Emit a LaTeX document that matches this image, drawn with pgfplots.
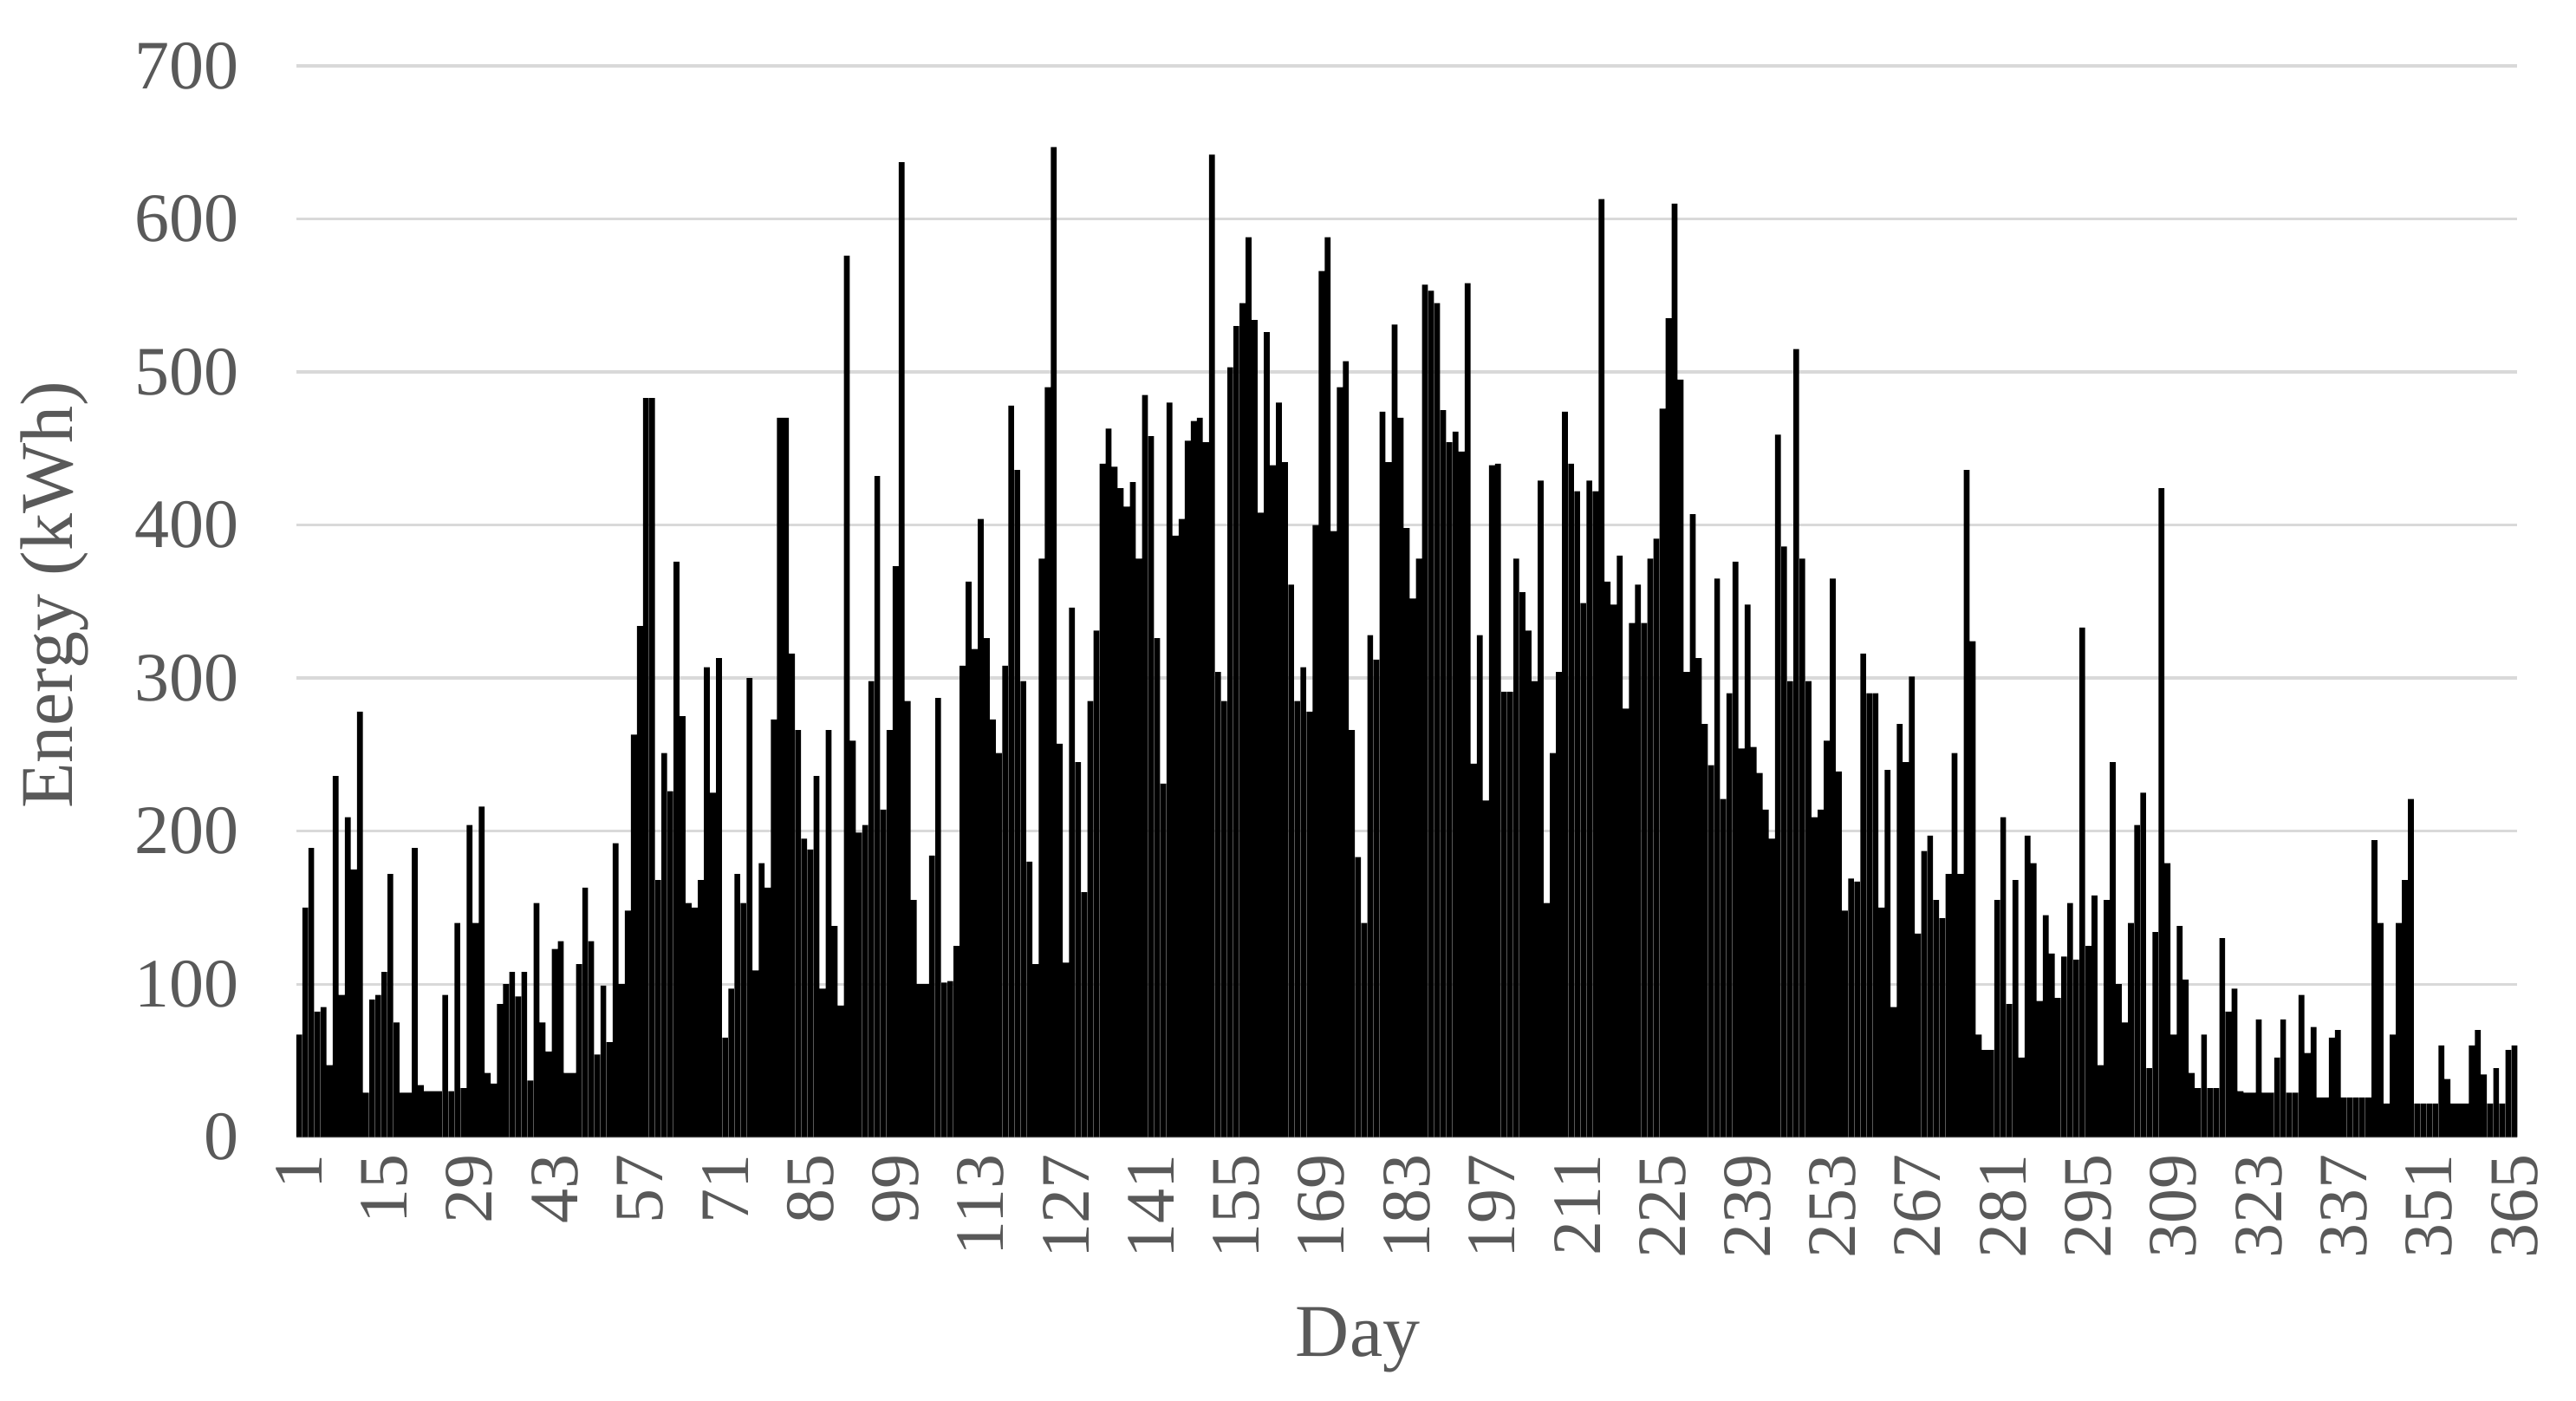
\documentclass[border=0pt]{standalone}
\usepackage{fontspec}
\setmainfont{Liberation Serif}
\usepackage{pgfplots}
\pgfplotsset{compat=1.18}
\definecolor{txt}{HTML}{595959}
\definecolor{grd}{HTML}{D9D9D9}
\begin{document}
\begin{tikzpicture}
\begin{axis}[
  name=ax,
  scale only axis, width=640.75pt, height=308.95pt,
  xmin=0.5, xmax=365.5, ymin=0, ymax=700,
  ybar, bar width=0.95, bar shift=0pt,
  axis lines*=left,
  x axis line style={draw=grd, line width=0.8pt, -},
  y axis line style={draw=none},
  ymajorgrids, major grid style={draw=grd, line width=0.8pt},
  xtick={1,15,...,365}, ytick={0,100,...,700},
  major tick length=0pt,
  /pgf/number format/assume math mode=true,
  tick label style={font=\fontsize{20}{24}\selectfont, text=txt},
  xticklabel style={rotate=90, anchor=east, xshift=-1.5pt},
  yticklabel style={xshift=-13pt},
  xlabel={Day}, ylabel={Energy (kWh)},
  label style={font=\fontsize{21.5}{26}\selectfont, text=txt},
  xlabel style={at={(axis description cs:0.478,-0.189)}, anchor=center},
  ylabel style={at={(axis description cs:-0.1086,0.506)}, anchor=center, rotate=0},
]
\addplot[fill=black, draw=none] coordinates {
(1,67)(2,150)(3,189)(4,82)(5,85)(6,47)(7,236)(8,93)(9,209)(10,175)
(11,278)(12,29)(13,90)(14,93)(15,108)(16,172)(17,75)(18,29)(19,29)(20,189)
(21,34)(22,30)(23,30)(24,30)(25,93)(26,30)(27,140)(28,32)(29,204)(30,140)
(31,216)(32,42)(33,35)(34,87)(35,100)(36,108)(37,92)(38,108)(39,37)(40,153)
(41,75)(42,56)(43,123)(44,128)(45,42)(46,42)(47,113)(48,163)(49,128)(50,54)
(51,99)(52,62)(53,192)(54,100)(55,148)(56,263)(57,334)(58,483)(59,483)(60,168)
(61,251)(62,226)(63,376)(64,275)(65,153)(66,150)(67,168)(68,307)(69,225)(70,313)
(71,65)(72,97)(73,172)(74,153)(75,300)(76,109)(77,179)(78,163)(79,273)(80,470)
(81,470)(82,316)(83,266)(84,195)(85,188)(86,236)(87,97)(88,266)(89,138)(90,86)
(91,576)(92,259)(93,199)(94,204)(95,298)(96,432)(97,214)(98,266)(99,373)(100,637)
(101,285)(102,155)(103,100)(104,100)(105,184)(106,287)(107,101)(108,102)(109,125)(110,308)
(111,363)(112,319)(113,404)(114,326)(115,273)(116,251)(117,308)(118,478)(119,436)(120,298)
(121,180)(122,113)(123,378)(124,490)(125,647)(126,257)(127,114)(128,346)(129,245)(130,160)
(131,285)(132,331)(133,440)(134,463)(135,438)(136,424)(137,412)(138,428)(139,378)(140,485)
(141,458)(142,326)(143,231)(144,480)(145,393)(146,404)(147,455)(148,468)(149,470)(150,454)
(151,642)(152,304)(153,285)(154,503)(155,530)(156,545)(157,588)(158,534)(159,408)(160,526)
(161,439)(162,480)(163,441)(164,361)(165,285)(166,307)(167,278)(168,400)(169,566)(170,588)
(171,396)(172,490)(173,507)(174,266)(175,183)(176,140)(177,328)(178,312)(179,474)(180,441)
(181,531)(182,470)(183,398)(184,352)(185,378)(186,557)(187,553)(188,545)(189,475)(190,454)
(191,461)(192,448)(193,558)(194,244)(195,328)(196,220)(197,439)(198,440)(199,291)(200,291)
(201,378)(202,356)(203,331)(204,298)(205,429)(206,153)(207,251)(208,304)(209,474)(210,440)
(211,422)(212,349)(213,429)(214,422)(215,613)(216,363)(217,348)(218,380)(219,280)(220,336)
(221,361)(222,336)(223,378)(224,391)(225,476)(226,535)(227,610)(228,495)(229,304)(230,407)
(231,313)(232,270)(233,243)(234,365)(235,221)(236,290)(237,376)(238,254)(239,348)(240,255)
(241,238)(242,214)(243,195)(244,459)(245,386)(246,298)(247,515)(248,378)(249,298)(250,209)
(251,214)(252,259)(253,365)(254,239)(255,148)(256,169)(257,167)(258,316)(259,290)(260,290)
(261,150)(262,240)(263,85)(264,270)(265,245)(266,301)(267,133)(268,187)(269,197)(270,155)
(271,143)(272,172)(273,251)(274,172)(275,436)(276,324)(277,67)(278,57)(279,57)(280,155)
(281,209)(282,87)(283,168)(284,52)(285,197)(286,179)(287,89)(288,145)(289,120)(290,91)
(291,118)(292,153)(293,116)(294,333)(295,125)(296,158)(297,47)(298,155)(299,245)(300,100)
(301,75)(302,140)(303,204)(304,225)(305,45)(306,134)(307,424)(308,179)(309,67)(310,138)
(311,103)(312,42)(313,32)(314,67)(315,32)(316,32)(317,130)(318,82)(319,97)(320,30)
(321,29)(322,29)(323,77)(324,29)(325,29)(326,52)(327,77)(328,29)(329,29)(330,93)
(331,55)(332,72)(333,26)(334,26)(335,65)(336,70)(337,26)(338,26)(339,26)(340,26)
(341,26)(342,194)(343,140)(344,22)(345,67)(346,140)(347,168)(348,221)(349,22)(350,22)
(351,22)(352,22)(353,60)(354,38)(355,22)(356,22)(357,22)(358,60)(359,70)(360,41)
(361,22)(362,45)(363,22)(364,57)(365,60)
};
\end{axis}
\pgfresetboundingbox
\path ([xshift=-85.4pt,yshift=-75.9pt]ax.south west) rectangle ([xshift=16.9pt,yshift=19pt]ax.north east);
\end{tikzpicture}
\end{document}
